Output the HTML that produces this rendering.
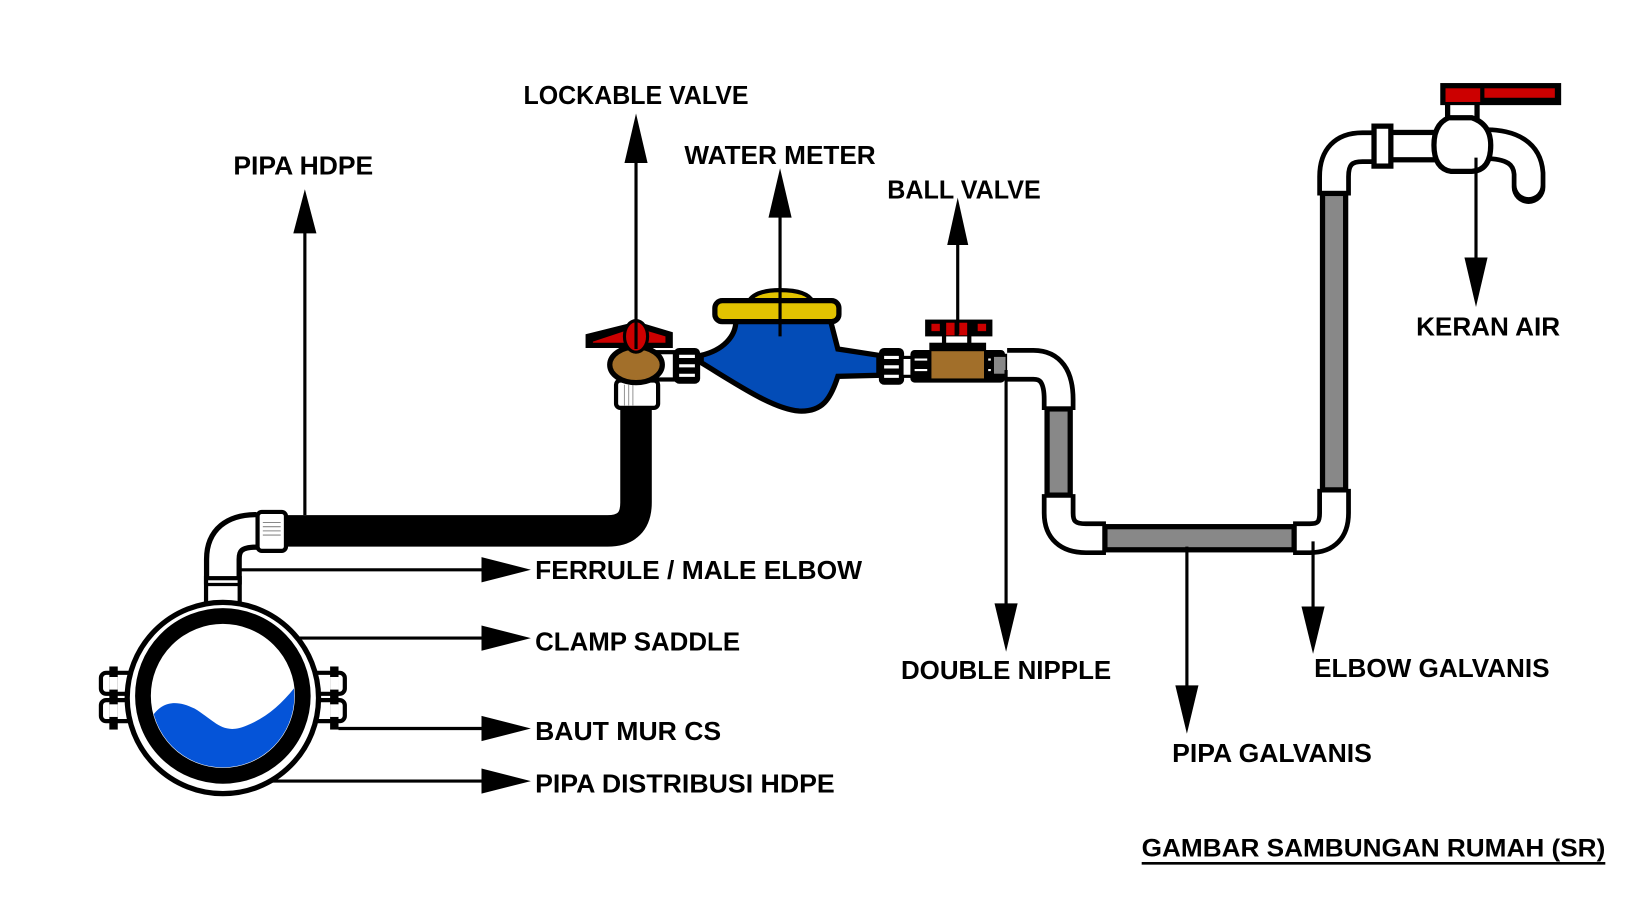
<!DOCTYPE html>
<html><head><meta charset="utf-8"><style>
html,body{margin:0;padding:0;background:#fff;}
svg{display:block;}
text{font-family:"Liberation Sans",sans-serif;font-weight:bold;font-size:25px;fill:#000;}
</style></head><body>
<svg width="1640" height="911" viewBox="0 0 1560 866.6" preserveAspectRatio="none" xmlns="http://www.w3.org/2000/svg">
<defs>
<clipPath id="inner"><circle cx="212" cy="662" r="68"/></clipPath>
</defs>
<rect width="1560" height="867" fill="#fff"/>

<path d="M265 505 H578 Q605 505 605 478 V385" fill="none" stroke="#000" stroke-width="30"/>
<path d="M212 556 V532 Q212 505 244 505" fill="none" stroke="#000" stroke-width="36"/>
<path d="M212 556 V532 Q212 505 244 505" fill="none" stroke="#fff" stroke-width="26"/>
<rect x="196" y="550" width="32" height="24" fill="#fff" stroke="#000" stroke-width="4"/>
<line x1="196" y1="556" x2="228" y2="556" stroke="#000" stroke-width="3"/>
<rect x="245" y="487" width="27" height="37" rx="4" fill="#fff" stroke="#000" stroke-width="4"/>
<path d="M250 497 H267 M250 501 H267 M250 505 H267 M250 509 H267" stroke="#888" stroke-width="1"/>

<rect x="96" y="640" width="36" height="20" rx="5" fill="#fff" stroke="#000" stroke-width="4"/>
<rect x="96" y="666" width="36" height="20" rx="5" fill="#fff" stroke="#000" stroke-width="4"/>
<rect x="292" y="640" width="36" height="20" rx="5" fill="#fff" stroke="#000" stroke-width="4"/>
<rect x="292" y="666" width="36" height="20" rx="5" fill="#fff" stroke="#000" stroke-width="4"/>
<rect x="104" y="634" width="8" height="60" fill="#000"/>
<rect x="314" y="634" width="8" height="60" fill="#000"/>
<rect x="104" y="644" width="8" height="12" fill="#fff"/><rect x="104" y="670" width="8" height="12" fill="#fff"/>
<rect x="314" y="644" width="8" height="12" fill="#fff"/><rect x="314" y="670" width="8" height="12" fill="#fff"/>
<circle cx="212" cy="664" r="91" fill="#fff" stroke="#000" stroke-width="5"/>
<circle cx="212" cy="662" r="76" fill="#fff" stroke="#000" stroke-width="15"/>
<g clip-path="url(#inner)">
<path d="M140 690 C150 668 165 664 185 674 C205 686 212 700 235 690 C255 682 270 668 285 648 V740 H140 Z" fill="#0554d8"/>
</g>

<rect x="586" y="362" width="40" height="26" rx="4" fill="#fff" stroke="#000" stroke-width="4"/>
<path d="M594 366 V386 M598 366 V386 M602 366 V386" stroke="#999" stroke-width="1"/>
<rect x="622" y="335" width="20" height="26" fill="#fff" stroke="#000" stroke-width="4"/>
<ellipse cx="605" cy="347" rx="25" ry="17" fill="#a26f2a" stroke="#000" stroke-width="5"/>
<polygon points="557,318 597,308 613,308 640,316 640,331 557,331" fill="#000"/>
<polygon points="564,325 597,314 613,314 633,320 633,326 564,326" fill="#cc0000"/>
<ellipse cx="605" cy="320" rx="11" ry="15" fill="#cc0000" stroke="#000" stroke-width="3"/>
<rect x="641" y="331" width="25" height="34" rx="5" fill="#000"/>
<path d="M646 339 H661 M646 348 H661 M646 357 H661" stroke="#fff" stroke-width="3"/>

<path d="M700 305 L790 305 L797 332 L836 338 L836 357 L797 358 C790 380 782 392 760 391 C735 389 700 365 667 345 L667 338 C688 333 700 320 700 305 Z" fill="#034cb7" stroke="#000" stroke-width="5"/>
<path d="M712 287 Q718 276 742 276 Q768 276 773 287 Z" fill="#e2c300" stroke="#000" stroke-width="4"/>
<rect x="680" y="286" width="118" height="20" rx="7" fill="#e2c300" stroke="#000" stroke-width="5"/>
<rect x="836" y="331" width="24" height="35" rx="5" fill="#000"/>
<path d="M841 340 H855 M841 349 H855 M841 358 H855" stroke="#fff" stroke-width="3"/>
<rect x="858" y="340" width="10" height="18" fill="#fff" stroke="#000" stroke-width="3"/>

<rect x="866" y="333" width="90" height="31" rx="4" fill="#000"/>
<rect x="886" y="334" width="50" height="26" fill="#a26f2a"/>
<path d="M870 342 H882 M870 352 H882 M940 342 H952 M940 352 H952" stroke="#fff" stroke-width="2"/>
<rect x="884" y="326" width="54" height="8" fill="#000"/>
<rect x="896" y="318" width="4" height="10" fill="#000"/><rect x="920" y="318" width="4" height="10" fill="#000"/>
<rect x="880" y="304" width="64" height="16" fill="#000"/>
<rect x="886" y="308" width="8" height="7" fill="#cc0000"/><rect x="930" y="308" width="8" height="7" fill="#cc0000"/>
<rect x="900" y="307" width="8" height="12" fill="#cc0000"/><rect x="912" y="307" width="8" height="12" fill="#cc0000"/>
<rect x="944" y="338" width="14" height="19" fill="#888" stroke="#000" stroke-width="3"/>

<g fill="none" stroke-linecap="butt">
<path d="M958 347 H983 Q1007 347 1007 380 V390" stroke="#000" stroke-width="32"/>
<path d="M958 347 H983 Q1007 347 1007 380 V390" stroke="#fff" stroke-width="23"/>
<path d="M1007 470 V488 Q1007 512 1033 512 H1052" stroke="#000" stroke-width="32"/>
<path d="M1007 470 V488 Q1007 512 1033 512 H1052" stroke="#fff" stroke-width="23"/>
<path d="M1230 512 H1246 Q1269 512 1269 488 V465" stroke="#000" stroke-width="32"/>
<path d="M1230 512 H1246 Q1269 512 1269 488 V465" stroke="#fff" stroke-width="23"/>
<path d="M1269 186 V168 Q1269 140 1296 140 H1310" stroke="#000" stroke-width="32"/>
<path d="M1269 186 V168 Q1269 140 1296 140 H1310" stroke="#fff" stroke-width="23"/>
<path d="M1412 137 Q1452 137 1454 165 V178" stroke="#000" stroke-width="32" stroke-linecap="round"/>
<path d="M1412 137 Q1452 137 1454 165 V176" stroke="#fff" stroke-width="23" stroke-linecap="round"/>
</g>
<rect x="996" y="389" width="22" height="82" fill="#888" stroke="#000" stroke-width="5"/>
<rect x="1051" y="501" width="180" height="22" fill="#888" stroke="#000" stroke-width="5"/>
<rect x="1258" y="184" width="22" height="282" fill="#888" stroke="#000" stroke-width="5"/>

<rect x="1320" y="126" width="48" height="26" fill="#fff" stroke="#000" stroke-width="5"/>
<rect x="1307" y="120" width="16" height="38" fill="#fff" stroke="#000" stroke-width="5"/>
<rect x="1377" y="96" width="28" height="18" fill="#fff" stroke="#000" stroke-width="5"/>
<path d="M1378 112 H1400 Q1418 118 1418 138 Q1418 162 1400 163 H1380 Q1364 160 1364 138 Q1364 118 1378 112 Z" fill="#fff" stroke="#000" stroke-width="5"/>
<rect x="1370" y="79" width="115" height="21" fill="#000"/>
<rect x="1375" y="84" width="33" height="13" fill="#cc0000"/>
<rect x="1412" y="84" width="67" height="9" fill="#cc0000"/>

<g stroke="#000" stroke-width="3">
<line x1="290" y1="490" x2="290" y2="215"/>
<line x1="605" y1="332" x2="605" y2="150"/>
<line x1="742" y1="320" x2="742" y2="200"/>
<line x1="911" y1="318" x2="911" y2="225"/>
<line x1="1404" y1="150" x2="1404" y2="250"/>
<line x1="957" y1="352" x2="957" y2="580"/>
<line x1="1129" y1="520" x2="1129" y2="655"/>
<line x1="1249" y1="515" x2="1249" y2="580"/>
<line x1="226" y1="542" x2="462" y2="542"/>
<line x1="284" y1="607" x2="462" y2="607"/>
<line x1="322" y1="693" x2="462" y2="693"/>
<line x1="255" y1="743" x2="462" y2="743"/>
</g>
<g fill="#000">
<polygon points="290,180 279,222 301,222"/>
<polygon points="605,108 594,155 616,155"/>
<polygon points="742,160 731,207 753,207"/>
<polygon points="911,188 901,233 921,233"/>
<polygon points="1404,292 1393,245 1415,245"/>
<polygon points="957,620 946,574 968,574"/>
<polygon points="1129,698 1118,652 1140,652"/>
<polygon points="1249,622 1238,577 1260,577"/>
<polygon points="505,542 458,530 458,554"/>
<polygon points="505,607 458,595 458,619"/>
<polygon points="505,693 458,681 458,705"/>
<polygon points="505,743 458,731 458,755"/>
</g>

<g lengthAdjust="spacingAndGlyphs">
<text x="222" y="166" textLength="133" lengthAdjust="spacingAndGlyphs">PIPA HDPE</text>
<text x="498" y="99" textLength="214" lengthAdjust="spacingAndGlyphs">LOCKABLE VALVE</text>
<text x="651" y="156" textLength="182" lengthAdjust="spacingAndGlyphs">WATER METER</text>
<text x="844" y="189" textLength="146" lengthAdjust="spacingAndGlyphs">BALL VALVE</text>
<text x="1347" y="319" textLength="137" lengthAdjust="spacingAndGlyphs">KERAN AIR</text>
<text x="857" y="646" textLength="200" lengthAdjust="spacingAndGlyphs">DOUBLE NIPPLE</text>
<text x="1115" y="725" textLength="190" lengthAdjust="spacingAndGlyphs">PIPA GALVANIS</text>
<text x="1250" y="644" textLength="224" lengthAdjust="spacingAndGlyphs">ELBOW GALVANIS</text>
<text x="509" y="551" textLength="311" lengthAdjust="spacingAndGlyphs">FERRULE / MALE ELBOW</text>
<text x="509" y="619" textLength="195" lengthAdjust="spacingAndGlyphs">CLAMP SADDLE</text>
<text x="509" y="704" textLength="177" lengthAdjust="spacingAndGlyphs">BAUT MUR CS</text>
<text x="509" y="754" textLength="285" lengthAdjust="spacingAndGlyphs">PIPA DISTRIBUSI HDPE</text>
<text x="1086" y="815" textLength="441" lengthAdjust="spacingAndGlyphs" style="font-size:24px">GAMBAR SAMBUNGAN RUMAH (SR)</text>
</g>
<rect x="1086" y="820" width="441" height="2.5" fill="#000"/>
</svg>
</body></html>
